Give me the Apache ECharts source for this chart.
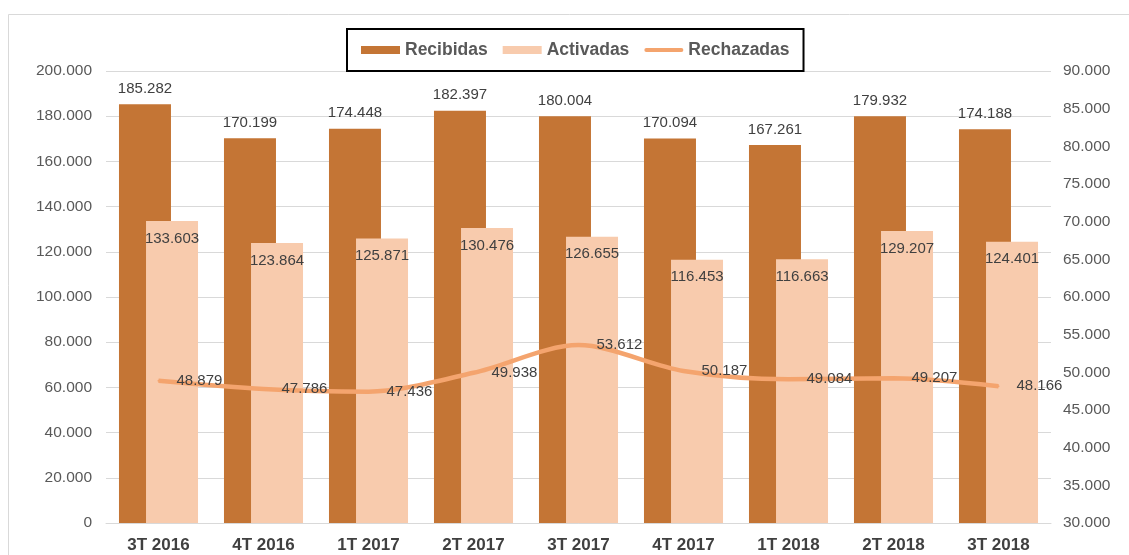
<!DOCTYPE html>
<html>
<head>
<meta charset="utf-8">
<script src="https://cdn.jsdelivr.net/npm/echarts@6/dist/echarts.min.js"></script>
<style>
html,body{margin:0;padding:0;background:#fff;}
#c{width:1129px;height:555px;}
</style>
</head>
<body>
<div id="c"></div>
<script>
const categories = ['3T 2016','4T 2016','1T 2017','2T 2017','3T 2017','4T 2017','1T 2018','2T 2018','3T 2018'];
const recibidas = [185282,170199,174448,182397,180004,170094,167261,179932,174188];
const activadas = [133603,123864,125871,130476,126655,116453,116663,129207,124401];
const rechazadas = [48879,47786,47436,49938,53612,50187,49084,49207,48166];

const fmt = v => String(Math.round(v)).replace(/\B(?=(\d{3})+(?!\d))/g, '.');
const FONT = '"Liberation Sans", Arial, sans-serif';

const chart = echarts.init(document.getElementById('c'), null, {renderer:'canvas'});
chart.setOption({
  animation:false,
  backgroundColor:'#ffffff',
  textStyle:{fontFamily:FONT},
  graphic:[{
    type:'rect', z:-10, silent:true,
    shape:{x:8.5,y:14.5,width:1140,height:560},
    style:{fill:'none',stroke:'#d9d9d9',lineWidth:1}
  }],
  legend:{
    left:347, top:29,
    padding:[12,14,12,14],
    borderColor:'#000', borderWidth:2,
    itemWidth:39, itemHeight:8, itemGap:15,
    textStyle:{fontFamily:FONT,fontSize:17.5,fontWeight:'bold',color:'#595959'},
    data:[
      {name:'Recibidas',icon:'rect'},
      {name:'Activadas',icon:'rect'},
      {name:'Rechazadas',icon:'path://M2 0H38A2 2 0 0 1 38 4H2A2 2 0 0 1 2 0Z'}
    ]
  },
  grid:{left:106,right:78,top:71,bottom:32,containLabel:false},
  xAxis:{
    type:'category', data:categories,
    axisLine:{show:true,lineStyle:{color:'#d9d9d9',width:1}},
    axisTick:{show:false},
    axisLabel:{fontFamily:FONT,fontSize:17,fontWeight:'bold',color:'#404040',margin:14}
  },
  yAxis:[{
    type:'value', min:0, max:200000, interval:20000,
    axisLine:{show:false}, axisTick:{show:false},
    splitLine:{lineStyle:{color:'#d9d9d9',width:1}},
    axisLabel:{fontFamily:FONT,fontSize:15.5,color:'#595959',margin:14,formatter:fmt}
  },{
    type:'value', min:30000, max:90000, interval:5000,
    axisLine:{show:false}, axisTick:{show:false},
    splitLine:{show:false},
    axisLabel:{fontFamily:FONT,fontSize:15.5,color:'#595959',margin:12,formatter:fmt}
  }],
  series:[{
    name:'Recibidas', type:'bar', data:recibidas,
    barWidth:52, barGap:'-48%',
    itemStyle:{color:'#C47535'},
    label:{show:true,position:'top',distance:8,fontFamily:FONT,fontSize:15,color:'#404040',formatter:p=>fmt(p.value)}
  },{
    name:'Activadas', type:'bar', data:activadas,
    barWidth:52, barGap:'-48%',
    itemStyle:{color:'#F8CBAD'},
    label:{show:true,position:'insideTop',distance:10,fontFamily:FONT,fontSize:15,color:'#404040',formatter:p=>fmt(p.value)}
  },{
    name:'Rechazadas', type:'line', yAxisIndex:1, data:rechazadas,
    smooth:0.3, symbol:'circle', symbolSize:2, showSymbol:true,
    lineStyle:{color:'#F4A46E',width:4.5},
    itemStyle:{color:'#F4A46E'},
    label:{show:true,position:'right',distance:17,fontFamily:FONT,fontSize:15,color:'#404040',formatter:p=>fmt(p.value)},
    z:5
  }]
});
</script>
</body>
</html>
